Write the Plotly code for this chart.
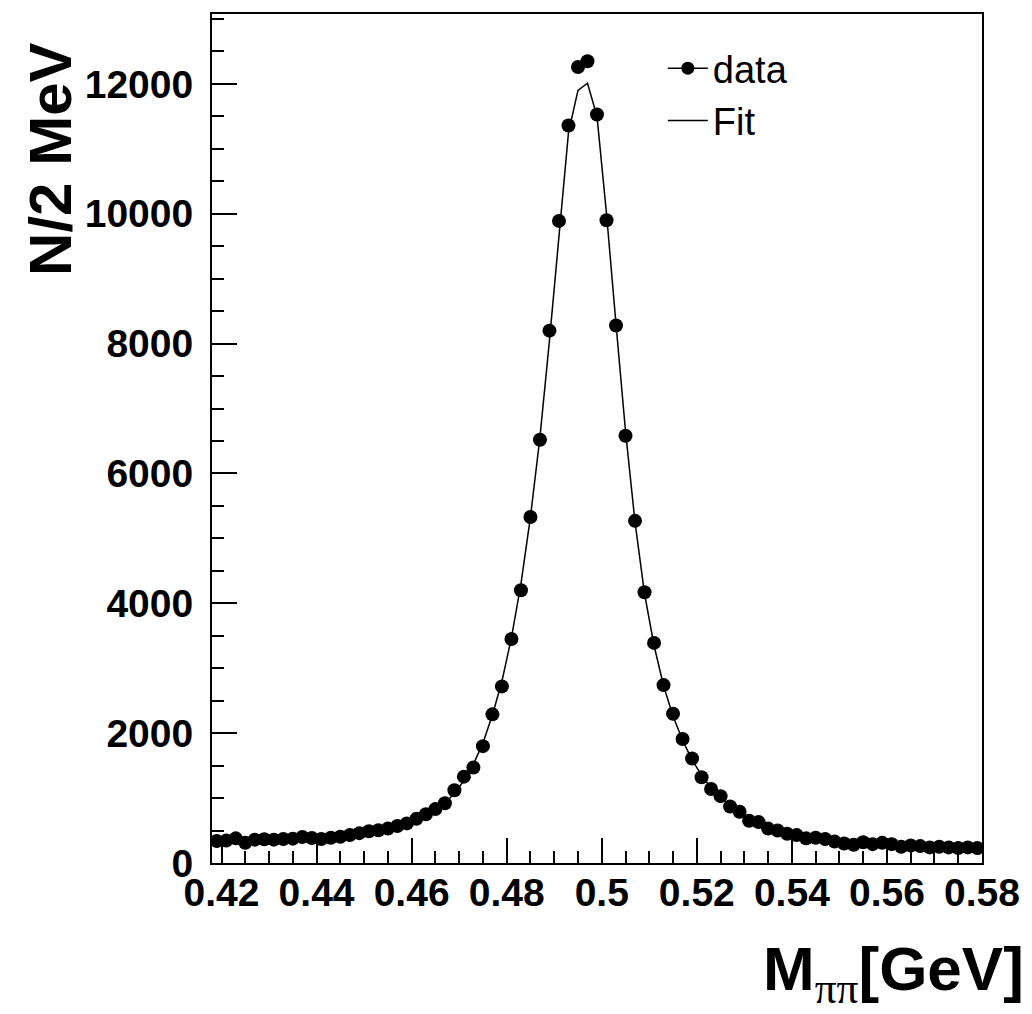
import plotly.graph_objects as go

# bin centres (2 MeV bins)
mass = [0.419, 0.421, 0.423, 0.425, 0.427, 0.429, 0.431, 0.433, 0.435, 0.437,
        0.439, 0.441, 0.443, 0.445, 0.447, 0.449, 0.451, 0.453, 0.455, 0.457,
        0.459, 0.461, 0.463, 0.465, 0.467, 0.469, 0.471, 0.473, 0.475, 0.477,
        0.479, 0.481, 0.483, 0.485, 0.487, 0.489, 0.491, 0.493, 0.495, 0.497,
        0.499, 0.501, 0.503, 0.505, 0.507, 0.509, 0.511, 0.513, 0.515, 0.517,
        0.519, 0.521, 0.523, 0.525, 0.527, 0.529, 0.531, 0.533, 0.535, 0.537,
        0.539, 0.541, 0.543, 0.545, 0.547, 0.549, 0.551, 0.553, 0.555, 0.557,
        0.559, 0.561, 0.563, 0.565, 0.567, 0.569, 0.571, 0.573, 0.575, 0.577,
        0.579]

counts = [340, 345, 380, 310, 360, 365, 360, 370, 375, 400,
          385, 370, 390, 405, 430, 460, 490, 505, 530, 570,
          610, 680, 750, 830, 920, 1120, 1330, 1470, 1800, 2290,
          2720, 3450, 4200, 5330, 6520, 8200, 9890, 11360, 12260, 12350,
          11530, 9900, 8280, 6580, 5270, 4170, 3390, 2740, 2300, 1910,
          1610, 1320, 1140, 1030, 870, 790, 650, 630, 530, 500,
          450, 430, 380, 390, 370, 330, 300, 280, 320, 290,
          310, 290, 250, 270, 260, 240, 250, 240, 230, 240,
          230]

fit = [330, 335, 340, 345, 350, 355, 360, 368, 376, 385,
       395, 405, 418, 432, 448, 466, 487, 511, 540, 575,
       616, 668, 733, 815, 925, 1070, 1270, 1520, 1850, 2280,
       2800, 3470, 4300, 5330, 6560, 8050, 9700, 11250, 11900, 12010,
       11500, 10000, 8300, 6650, 5250, 4150, 3350, 2730, 2260, 1890,
       1590, 1350, 1160, 1010, 880, 780, 695, 625, 565, 515,
       472, 436, 405, 378, 355, 335, 318, 303, 290, 279,
       270, 262, 255, 249, 244, 240, 236, 233, 230, 228,
       226]

x_tickvals = [0.42, 0.44, 0.46, 0.48, 0.50, 0.52, 0.54, 0.56, 0.58]
x_ticktext = ["0.42", "0.44", "0.46", "0.48", "0.5", "0.52", "0.54", "0.56", "0.58"]
y_tickvals = [0, 2000, 4000, 6000, 8000, 10000, 12000]
y_ticktext = ["0", "2000", "4000", "6000", "8000", "10000", "12000"]

FONT = "Liberation Sans, Arial, Helvetica, sans-serif"

fig = go.Figure()

fig.add_trace(go.Scatter(
    x=mass, y=fit, mode="lines", name="Fit",
    line=dict(color="black", width=1.5), showlegend=False))
fig.add_trace(go.Scatter(
    x=mass, y=counts, mode="markers", name="data",
    marker=dict(color="black", size=14), showlegend=False))
# legend entries (ROOT style)
fig.add_trace(go.Scatter(
    x=[None], y=[None], mode="lines+markers", name="data",
    marker=dict(color="black", size=13), line=dict(color="black", width=1.5)))
fig.add_trace(go.Scatter(
    x=[None], y=[None], mode="lines", name="Fit",
    line=dict(color="black", width=1.5)))

L, R, T, B = 212, 48, 13, 151
W, H = 1032, 1014
pw = W - L - R
ph = H - T - B

fig.update_layout(
    width=W, height=H,
    margin=dict(l=L, r=R, t=T, b=B),
    paper_bgcolor="white", plot_bgcolor="white",
    font=dict(family=FONT, color="black"),
    legend=dict(
        x=(664 - L) / pw, y=(863 - 36) / ph, xanchor="left", yanchor="top",
        font=dict(size=38, family=FONT, color="black"),
        bgcolor="rgba(0,0,0,0)", itemwidth=40, tracegroupgap=0,
    ),
    xaxis=dict(
        range=[0.418, 0.580], showgrid=False, zeroline=False,
        showline=True, linecolor="black", linewidth=2, mirror=True,
        ticks="inside", ticklen=25, tickwidth=1.5, tickcolor="black",
        tickvals=x_tickvals, ticktext=x_ticktext,
        tickfont=dict(size=39, family=FONT, color="black", weight="bold"),
        minor=dict(dtick=0.005, tick0=0.42, ticks="inside", ticklen=12,
                   tickwidth=1.5, tickcolor="black"),
        ticklabelstandoff=-6,
    ),
    yaxis=dict(
        range=[0, 13077], showgrid=False, zeroline=False,
        showline=True, linecolor="black", linewidth=2, mirror=True,
        ticks="inside", ticklen=25, tickwidth=1.5, tickcolor="black",
        tickvals=y_tickvals, ticktext=y_ticktext,
        tickfont=dict(size=39, family=FONT, color="black", weight="bold"),
        minor=dict(dtick=500, tick0=0, ticks="inside", ticklen=12,
                   tickwidth=1.5, tickcolor="black"),
        ticklabelstandoff=9,
    ),
    annotations=[
        dict(text="N/2 MeV", textangle=-90, xref="paper", yref="paper",
             x=(50 - L) / pw, y=(863 - 40) / ph, xanchor="center", yanchor="top",
             showarrow=False,
             font=dict(size=60, family=FONT, color="black", weight="bold")),
        dict(text="M<sub><span style='font-family:Liberation Serif, serif;font-weight:normal'>ππ</span></sub>[GeV]",
             xref="paper", yref="paper",
             x=(1028 - L) / pw, y=-(1014 - 863) / ph, xanchor="right", yanchor="bottom",
             showarrow=False,
             font=dict(size=62, family=FONT, color="black", weight="bold")),
    ],
)

fig.write_html("out.html")
